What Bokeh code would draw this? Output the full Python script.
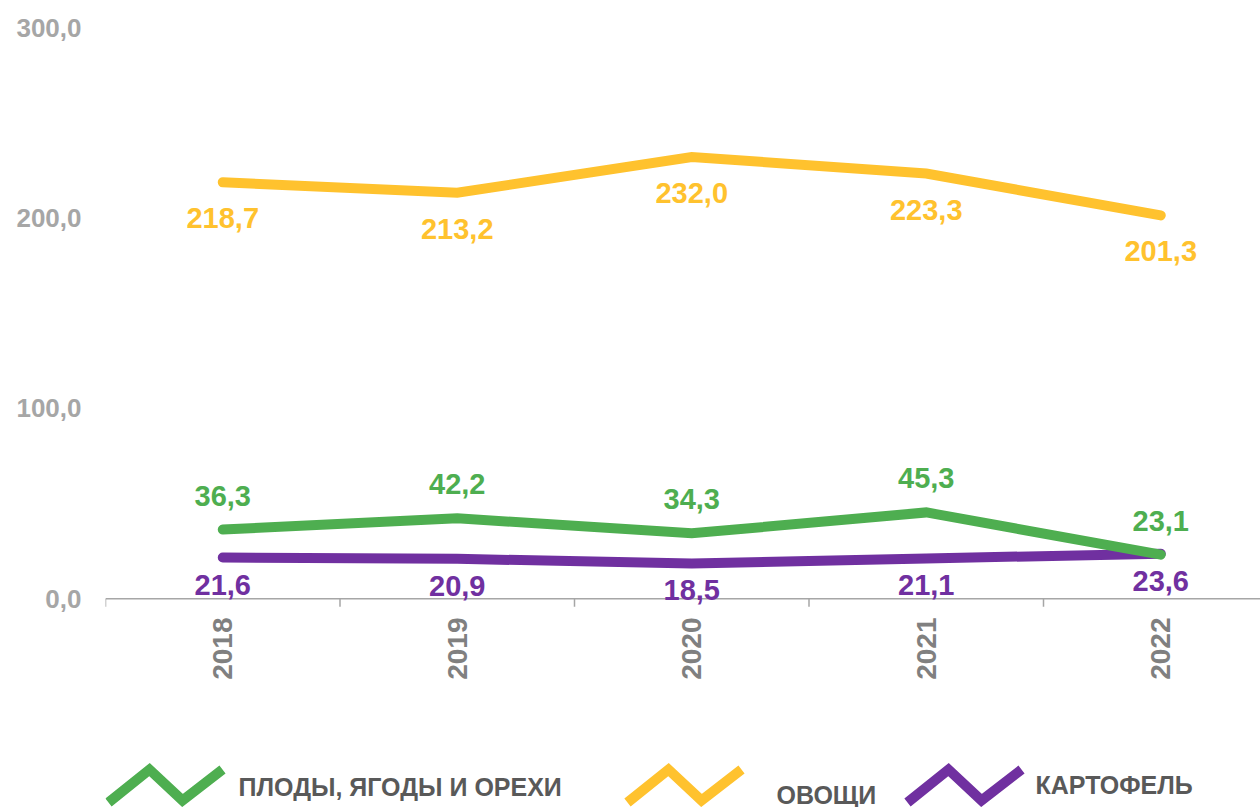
import math
from bokeh.plotting import figure
from bokeh.models import Range1d, FixedTicker, LabelSet, ColumnDataSource, Span
from bokeh.layouts import column
from bokeh.embed import file_html
from bokeh.resources import INLINE
from bokeh.core.properties import value

# ---------------- data ----------------
years = ["2018", "2019", "2020", "2021", "2022"]
fruits = [36.3, 42.2, 34.3, 45.3, 23.1]          # ПЛОДЫ, ЯГОДЫ И ОРЕХИ
vegetables = [218.7, 213.2, 232.0, 223.3, 201.3]  # ОВОЩИ
potatoes = [21.6, 20.9, 18.5, 21.1, 23.6]         # КАРТОФЕЛЬ
y_ticks = [0, 100, 200, 300]
y_tick_labels = ["0,0", "100,0", "200,0", "300,0"]
series_names = ["ПЛОДЫ, ЯГОДЫ И ОРЕХИ", "ОВОЩИ", "КАРТОФЕЛЬ"]

# ---------------- style ----------------
GREEN = "#4EAE50"
YELLOW = "#FFC22E"
PURPLE = "#7030A0"
AXIS_GRAY = "#A6A6A6"
FONT = "Liberation Sans"
W = 1260
MAIN_H = 700
LEG_H = 107
LEFT = 105
TOP = 27
Y_PAD = 12          # room below zero so labels near the axis are not clipped
BOTTOM = 79
PX_PER_UNIT = (MAIN_H - TOP - BOTTOM) / (300 + Y_PAD)
TICK_LEN_PX = 8

xs = list(range(len(years)))

p = figure(width=W, height=MAIN_H, output_backend="svg", toolbar_location=None,
           x_range=Range1d(-0.5, -0.5 + (W - LEFT) / 234.5),
           y_range=Range1d(-Y_PAD, 300),
           min_border_left=LEFT, min_border_right=0, min_border_top=TOP,
           min_border_bottom=BOTTOM)
p.outline_line_color = None
p.xgrid.visible = False
p.ygrid.visible = False
p.background_fill_color = "white"
p.border_fill_color = "white"

# y axis
p.yaxis.ticker = FixedTicker(ticks=y_ticks)
p.yaxis.major_label_overrides = {t: l for t, l in zip(y_ticks, y_tick_labels)}
p.yaxis.axis_line_color = None
p.yaxis.major_tick_line_color = None
p.yaxis.minor_tick_line_color = None
p.yaxis.major_tick_out = 0
p.yaxis.major_tick_in = 0
p.yaxis.major_label_standoff = 24
p.yaxis.major_label_text_font = FONT
p.yaxis.major_label_text_font_style = "bold"
p.yaxis.major_label_text_font_size = "26px"
p.yaxis.major_label_text_color = AXIS_GRAY

# x axis: labels only (line and category-boundary ticks drawn at y = 0 below)
p.xaxis.ticker = FixedTicker(ticks=xs)
p.xaxis.major_label_overrides = {i: y for i, y in zip(xs, years)}
p.xaxis.major_label_orientation = math.pi / 2
p.xaxis.axis_line_color = None
p.xaxis.major_tick_line_color = None
p.xaxis.minor_tick_line_color = None
p.xaxis.major_tick_out = 0
p.xaxis.major_tick_in = 0
p.xaxis.major_label_standoff = -4
p.xaxis.major_label_text_font = FONT
p.xaxis.major_label_text_font_style = "bold"
p.xaxis.major_label_text_font_size = "28px"
p.xaxis.major_label_text_color = "#808080"

p.add_layout(Span(location=0, dimension="width", line_color=AXIS_GRAY,
                  line_width=1.5, level="underlay"))
bounds = [i - 0.5 for i in xs]
p.segment(x0=bounds, y0=[0] * len(bounds), x1=bounds,
          y1=[-TICK_LEN_PX / PX_PER_UNIT] * len(bounds),
          line_color=AXIS_GRAY, line_width=1.5)


def fmt(v):
    return f"{v:.1f}".replace(".", ",")

# draw order: purple, yellow, green (green on top); offsets in px (+ = up)
series = [
    (potatoes, PURPLE, -27),
    (vegetables, YELLOW, -36),
    (fruits, GREEN, 34),
]
for vals, col, off in series:
    p.line(xs, vals, line_width=10, line_color=col, line_cap="round", line_join="miter")
for vals, col, off in series:
    src = ColumnDataSource(dict(x=xs, y=vals, t=[fmt(v) for v in vals]))
    p.add_layout(LabelSet(x="x", y="y", text="t", source=src, y_offset=off,
                          text_align="center", text_baseline="middle",
                          text_font=value(FONT), text_font_style="bold",
                          text_font_size="29px", text_color=col))

# ---------------- legend strip (coordinates = page pixels) ----------------
leg = figure(width=W, height=LEG_H, output_backend="svg", toolbar_location=None,
             x_range=Range1d(LEFT, W), y_range=Range1d(MAIN_H + LEG_H, MAIN_H),
             x_axis_type=None, y_axis_type=None,
             min_border_left=LEFT, min_border_right=0, min_border_top=0, min_border_bottom=0)
leg.outline_line_color = None
leg.xgrid.visible = False
leg.ygrid.visible = False
leg.background_fill_color = "white"
leg.border_fill_color = "white"

icon_dx = [0, 41, 74, 114]
icon_y = [802, 769, 800, 769]
icon_x0 = [108, 627, 907]
label_x = [238, 776, 1035]
label_y = [786, 794, 784]
for name, col, x0, lx, ly in zip(series_names, [GREEN, YELLOW, PURPLE], icon_x0, label_x, label_y):
    leg.line([x0 + d for d in icon_dx], icon_y, line_width=10, line_color=col,
             line_join="miter", line_cap="butt")
    leg.text(x=[lx], y=[ly], text=[name], text_align="left", text_baseline="middle",
             text_font=value(FONT), text_font_style="bold", text_font_size="25px",
             text_color="#595959")

layout = column(p, leg, spacing=0)
open("out.html", "w").write(file_html(layout, INLINE))
